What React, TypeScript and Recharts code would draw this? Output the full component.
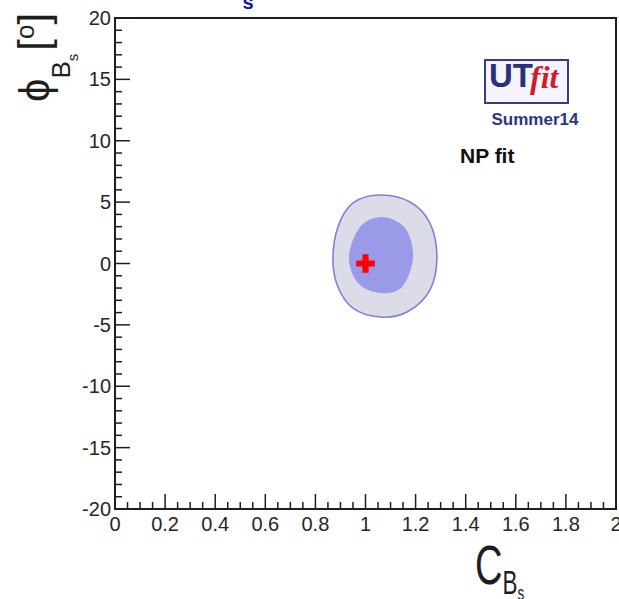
import React from 'react';
import { ScatterChart, Scatter, XAxis, YAxis, ReferenceArea, Symbols } from 'recharts';

// 95% contour (C_Bs, phi_Bs), clockwise from the top
const outerC = [1.058, 1.178, 1.257, 1.285, 1.257, 1.166, 1.058, 0.95, 0.89, 0.87, 0.89, 0.95];
const outerPhi = [5.58, 5.01, 3.3, 0.53, -2.16, -3.95, -4.36, -3.63, -1.91, 0.29, 2.97, 4.93];

// 68% contour
const innerC = [1.066, 1.158, 1.19, 1.146, 1.058, 0.97, 0.934, 0.978];
const innerPhi = [3.79, 2.89, 0.53, -1.91, -2.4, -1.59, 0.53, 2.97];

// standard model point
const smC = [1.0];
const smPhi = [0.0];

const xMajor = [0, 0.2, 0.4, 0.6, 0.8, 1, 1.2, 1.4, 1.6, 1.8, 2];
const xLabels = ['0', '0.2', '0.4', '0.6', '0.8', '1', '1.2', '1.4', '1.6', '1.8', '2'];
const yMajor = [-20, -15, -10, -5, 0, 5, 10, 15, 20];
const yLabels = ['-20', '-15', '-10', '-5', '0', '5', '10', '15', '20'];

const toPoints = (cs: number[], phis: number[]) => cs.map((c, i) => ({ c, phi: phis[i] }));

// minor ticks between the labelled ones
const xTicks: number[] = [];
for (let i = 0; i < xMajor.length - 1; i++) {
  const step = (xMajor[i + 1] - xMajor[i]) / 4;
  for (let k = 0; k < 4; k++) xTicks.push(+(xMajor[i] + k * step).toFixed(3));
}
xTicks.push(xMajor[xMajor.length - 1]);

const yTicks: number[] = [];
for (let i = 0; i < yMajor.length - 1; i++) {
  for (let k = 0; k < 5; k++) yTicks.push(yMajor[i] + k);
}
yTicks.push(yMajor[yMajor.length - 1]);

const FONT = '"Liberation Sans", Arial, Helvetica, sans-serif';
const INK = '#1e1e1e';

function closedSpline(pts: { x: number; y: number }[]) {
  const n = pts.length;
  if (!n) return '';
  let d = `M${pts[0].x},${pts[0].y}`;
  for (let i = 0; i < n; i++) {
    const p0 = pts[(i - 1 + n) % n];
    const p1 = pts[i];
    const p2 = pts[(i + 1) % n];
    const p3 = pts[(i + 2) % n];
    const c1x = p1.x + (p2.x - p0.x) / 6;
    const c1y = p1.y + (p2.y - p0.y) / 6;
    const c2x = p2.x - (p3.x - p1.x) / 6;
    const c2y = p2.y - (p3.y - p1.y) / 6;
    d += ` C${c1x},${c1y} ${c2x},${c2y} ${p2.x},${p2.y}`;
  }
  return d + ' Z';
}

function ContourPath(props: any) {
  const { points, areaFill, edge, edgeWidth } = props;
  if (!points) return null;
  return <path d={closedSpline(points)} fill={areaFill} stroke={edge} strokeWidth={edgeWidth} />;
}

const NoDot = () => <g />;

const BestFit = (props: any) => (
  <Symbols type="cross" size={192} cx={props.cx} cy={props.cy} fill="#ff0000" />
);

const XTick = (props: any) => {
  const { x, y, payload } = props;
  const v = payload.value;
  const idx = xMajor.findIndex((m) => Math.abs(m - v) < 1e-6);
  const len = idx >= 0 ? 15 : 7;
  return (
    <g>
      <line x1={x} y1={y} x2={x} y2={y - len} stroke={INK} strokeWidth={1.5} />
      {idx >= 0 && (
        <text x={x} y={y + 22} textAnchor="middle" fontFamily={FONT} fontSize={20} fill="#262626">
          {xLabels[idx]}
        </text>
      )}
    </g>
  );
};

const YTick = (props: any) => {
  const { x, y, payload } = props;
  const v = payload.value;
  const idx = yMajor.indexOf(v);
  const len = idx >= 0 ? 15 : 7;
  return (
    <g>
      <line x1={x} y1={y} x2={x + len} y2={y} stroke={INK} strokeWidth={1.5} />
      {idx >= 0 && (
        <text x={x - 4} y={y} dy="0.35em" textAnchor="end" fontFamily={FONT} fontSize={20} fill="#262626">
          {yLabels[idx]}
        </text>
      )}
    </g>
  );
};

export default function App() {
  return (
    <div style={{ position: 'absolute', left: 0, top: 0, width: 619, height: 599, background: '#fff' }}>
      <ScatterChart width={619} height={599} margin={{ top: 18, right: 3, bottom: 50, left: 55 }}>
        <XAxis
          type="number"
          dataKey="c"
          domain={[0, 2]}
          allowDataOverflow
          ticks={xTicks}
          interval={0}
          tick={<XTick />}
          tickLine={false}
          axisLine={false}
          tickSize={0}
          tickMargin={0}
          height={40}
        />
        <YAxis
          type="number"
          dataKey="phi"
          domain={[-20, 20]}
          allowDataOverflow
          ticks={yTicks}
          interval={0}
          tick={<YTick />}
          tickLine={false}
          axisLine={false}
          tickSize={0}
          tickMargin={0}
          width={60}
        />
        <Scatter
          data={toPoints(outerC, outerPhi)}
          shape={NoDot}
          line={<ContourPath areaFill="#dcdce8" edge="#8080d4" edgeWidth={1.6} />}
          lineType="joint"
          isAnimationActive={false}
        />
        <Scatter
          data={toPoints(innerC, innerPhi)}
          shape={NoDot}
          line={<ContourPath areaFill="#9a9ae9" edge="none" edgeWidth={0} />}
          lineType="joint"
          isAnimationActive={false}
        />
        <Scatter data={toPoints(smC, smPhi)} shape={BestFit} isAnimationActive={false} />
        <ReferenceArea x1={0} x2={2} y1={-20} y2={20} fill="none" stroke={INK} strokeWidth={2} fillOpacity={0} />
      </ScatterChart>
      <svg width={619} height={599} style={{ position: 'absolute', left: 0, top: 0, pointerEvents: 'none' }}>
        <text x={248} y={9} textAnchor="middle" fontFamily={FONT} fontWeight="bold" fontSize={20} fill="#1414a0">
          s
        </text>
        <g transform="translate(49,102) rotate(-90)" fontFamily={FONT} fill={INK}>
          <text x={0} y={0}>
            <tspan fontSize={42}>ϕ</tspan>
            <tspan fontSize={26} dy={21}>B</tspan>
            <tspan fontSize={15} dy={8}>s</tspan>
            <tspan fontSize={42} dy={-30} dx={3}>[</tspan>
            <tspan fontSize={26} dy={-14}>o</tspan>
            <tspan fontSize={42} dy={14}>]</tspan>
          </text>
        </g>
        <g transform="translate(475,584) scale(0.68,1)" fontFamily={FONT} fill={INK}>
          <text x={0} y={0}>
            <tspan fontSize={56}>C</tspan>
            <tspan fontSize={33} dy={10}>B</tspan>
            <tspan fontSize={20} dy={6}>s</tspan>
          </text>
        </g>
        <rect x={485} y={60} width={83} height={43} fill="#f5f3fb" stroke="#3a3d80" strokeWidth={2} />
        <text x={489} y={87} fontFamily={FONT} fontWeight="bold" fontSize={33} fill="#27307c">
          UT
        </text>
        <text
          x={530}
          y={88}
          fontFamily='"Liberation Serif", "Times New Roman", serif'
          fontStyle="italic"
          fontWeight="bold"
          fontSize={32}
          fill="#cc1d2c"
        >
          fit
        </text>
        <text x={535} y={125} textAnchor="middle" fontFamily={FONT} fontWeight="bold" fontSize={17} fill="#2d3580">
          Summer14
        </text>
        <text x={460} y={163} fontFamily={FONT} fontWeight="bold" fontSize={21} fill="#111">
          NP fit
        </text>
      </svg>
    </div>
  );
}
